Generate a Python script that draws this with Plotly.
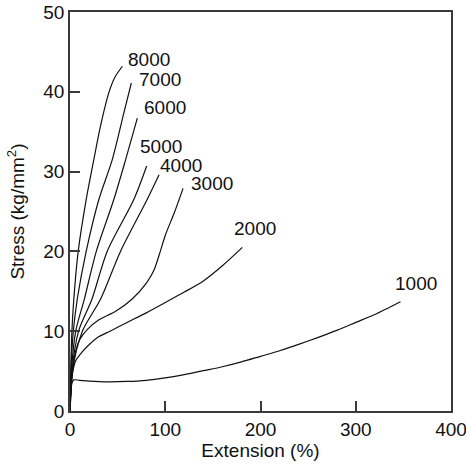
import plotly.graph_objects as go

# Extension (%) and Stress (kg/mm^2), one series per draw ratio
x_1000 = [0, 1, 2, 4, 10, 20, 40, 60, 80, 100, 120, 140, 160, 180, 200, 220, 240, 260, 280, 300, 320, 347]
y_1000 = [0, 2.2, 3.5, 3.9, 3.85, 3.75, 3.65, 3.7, 3.85, 4.15, 4.55, 5.05, 5.55, 6.15, 6.85, 7.55, 8.35, 9.2, 10.1, 11.1, 12.1, 13.7]

x_2000 = [0, 1, 3, 6, 13.5, 20, 30, 42, 60, 80, 100, 120, 140, 160, 181]
y_2000 = [0, 3, 5, 6.3, 7.5, 8.3, 9.3, 10.0, 11.1, 12.3, 13.6, 14.9, 16.3, 18.2, 20.5]

x_3000 = [0, 2, 5, 10, 18, 30, 48, 65, 80, 88, 94, 100, 110, 118.7]
y_3000 = [0, 4, 7, 8.9, 10.2, 11.4, 12.5, 14.0, 16.0, 17.6, 19.7, 22.0, 25.0, 27.9]

x_4000 = [0, 2.5, 13, 32, 53, 81, 93.5]
y_4000 = [0, 5, 10, 14, 20, 26.5, 29.6]

x_5000 = [0, 2, 9, 23, 39, 67, 80.5]
y_5000 = [0, 5, 10, 14, 20, 26.5, 30.7]

x_6000 = [0, 1.5, 6, 15, 27.6, 46, 58.4, 70.7]
y_6000 = [0, 5, 10, 14, 20, 26.5, 31.5, 36.7]

x_7000 = [0, 1, 3.5, 7.6, 17, 30.3, 44.4, 56.6, 64.4]
y_7000 = [0, 5, 10, 14, 20, 26.5, 31.5, 37.4, 41.1]

x_8000 = [0, 1, 2, 4, 8.6, 17, 25, 32, 40.8, 47, 55]
y_8000 = [0, 6, 10, 14, 20, 26.5, 31.5, 35.7, 39.9, 41.8, 43.2]

series_names = ["1000", "2000", "3000", "4000", "5000", "6000", "7000", "8000"]
series_x = [x_1000, x_2000, x_3000, x_4000, x_5000, x_6000, x_7000, x_8000]
series_y = [y_1000, y_2000, y_3000, y_4000, y_5000, y_6000, y_7000, y_8000]

# label anchor positions (data units)
label_x = [363, 194, 149, 117, 95.3, 99.5, 94.2, 82.6]
label_y = [15.95, 22.85, 28.5, 30.8, 33.2, 38.0, 41.6, 44.1]

x_ticks = [0, 100, 200, 300, 400]
y_ticks = [0, 10, 20, 30, 40, 50]

FONT = "Liberation Sans, Arial, Helvetica, sans-serif"
FS = 19

fig = go.Figure()
for name, xs, ys in zip(series_names, series_x, series_y):
    fig.add_trace(go.Scatter(x=xs, y=ys, mode="lines", name=name,
                             line=dict(color="#111111", width=1.2, shape="spline", smoothing=0.8),
                             showlegend=False, hoverinfo="skip"))

for name, lx, ly in zip(series_names, label_x, label_y):
    fig.add_annotation(x=lx, y=ly, text=name, showarrow=False,
                       font=dict(family=FONT, size=FS, color="#111111"),
                       xanchor="center", yanchor="middle")

axis_common = dict(
    showgrid=False, zeroline=False, showline=True, mirror=True,
    linecolor="#3a3a3a", linewidth=1.5,
    ticks="inside", ticklen=10, tickwidth=1.5, tickcolor="#3a3a3a",
    tickfont=dict(family=FONT, size=FS, color="#111111"),
    automargin=False, ticklabeloverflow="allow",
)

fig.update_xaxes(range=[0, 400], tickvals=x_ticks, ticktext=[str(v) for v in x_ticks],
                 title=dict(text="Extension (%)", font=dict(family=FONT, size=FS, color="#111111"), standoff=5),
                 **axis_common)
fig.update_yaxes(range=[0, 50], tickvals=y_ticks, ticktext=[str(v) for v in y_ticks],
                 title=dict(text="Stress (kg/mm<sup>2</sup>)", font=dict(family=FONT, size=FS, color="#111111"), standoff=14),
                 **axis_common)

fig.update_layout(
    width=466, height=465,
    margin=dict(l=70, r=15, t=12, b=54),
    paper_bgcolor="white", plot_bgcolor="white",
    font=dict(family=FONT, size=FS, color="#111111"),
)

fig.write_html("out.html")
